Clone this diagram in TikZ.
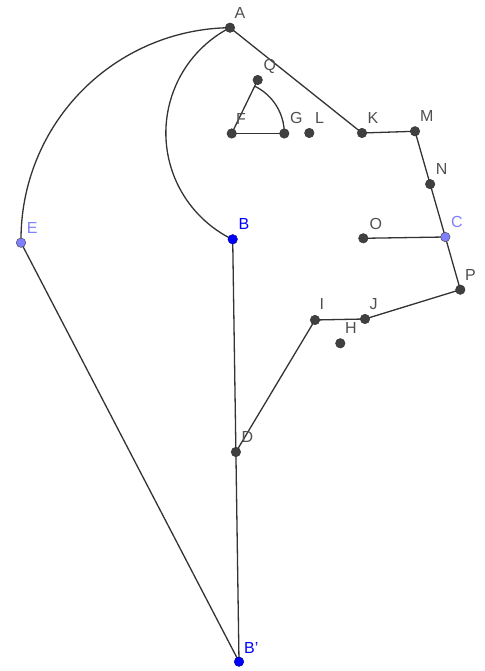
\documentclass[tikz,border=0pt]{standalone}
\usepackage{fontspec}
\setmainfont{Liberation Sans}
\definecolor{ptgray}{HTML}{404040}
\definecolor{lblgray}{HTML}{505050}
\definecolor{lineclr}{HTML}{333333}
\definecolor{ggblue}{HTML}{0000FF}
\definecolor{gglight}{HTML}{7F7FFF}
\tikzset{
  seg/.style={draw=lineclr, line width=1.3pt},
  pt/.style={circle, fill=ptgray, draw=black!80, line width=0.5pt, minimum size=9.5pt, inner sep=0pt},
  ptblue/.style={pt, fill=ggblue, draw=ggblue!60!black},
  ptlight/.style={pt, fill=gglight, draw=black!70},
  lbl/.style={anchor=base west, inner sep=0pt, text=lblgray, font=\fontsize{16}{16}\selectfont},
  lblblue/.style={lbl, text=ggblue},
  lbllight/.style={lbl, text=gglight}
}
\begin{document}
\begin{tikzpicture}[x=1pt, y=1pt]
\useasboundingbox (0,0) rectangle (484,671);
% point positions
\coordinate (A) at (230,643.3);
\coordinate (Q) at (257.7,591);
\coordinate (F) at (231.7,537.5);
\coordinate (G) at (284.3,537.5);
\coordinate (L) at (309.3,538);
\coordinate (K) at (362,538);
\coordinate (M) at (415,539.7);
\coordinate (N) at (430.15,486.85);
\coordinate (C) at (445.3,434);
\coordinate (O) at (363.3,432.7);
\coordinate (B) at (232.7,431.7);
\coordinate (P) at (460.3,381.3);
\coordinate (J) at (365,352);
\coordinate (I) at (315,351);
\coordinate (H) at (340.3,327.7);
\coordinate (D) at (235.9,219);
\coordinate (E) at (21,428.3);
\coordinate (Bp) at (239,9.3);
% arcs
\draw[seg] (A) arc[start angle=90.73, end angle=180.92, radius=211.7];
\draw[seg] (A) arc[start angle=117.28, end angle=244.1, radius=118.4];
\draw[seg] (G) arc[start angle=0, end angle=64.08, radius=52.6];
% segments
\draw[seg] (F) -- (Q);
\draw[seg] (F) -- (G);
\draw[seg] (A) -- (K);
\draw[seg] (K) -- (M);
\draw[seg] (M) -- (N) -- (C);
\draw[seg] (O) -- (C);
\draw[seg] (C) -- (P);
\draw[seg] (P) -- (J);
\draw[seg] (J) -- (I);
\draw[seg] (I) -- (D);
\draw[seg] (B) -- (D) -- (Bp);
\draw[seg] (E) -- (Bp);
% points
\node[pt] (pA) at (A) {};
\node[pt] (pQ) at (Q) {};
\node[pt] (pF) at (F) {};
\node[pt] (pG) at (G) {};
\node[pt] (pL) at (L) {};
\node[pt] (pK) at (K) {};
\node[pt] (pM) at (M) {};
\node[pt] (pN) at (N) {};
\node[ptlight] (pC) at (C) {};
\node[pt] (pO) at (O) {};
\node[ptblue] (pB) at (B) {};
\node[pt] (pP) at (P) {};
\node[pt] (pJ) at (J) {};
\node[pt] (pI) at (I) {};
\node[pt] (pH) at (H) {};
\node[pt] (pD) at (D) {};
\node[ptlight] (pE) at (E) {};
\node[ptblue] (pBp) at (Bp) {};
% labels
\node[lbl] (tA) at (234.5,652) {A};
\node[lbl] (tQ) at (263.5,600.5) {Q};
\node[lbl] (tF) at (236,546) {F};
\node[lbl] (tG) at (290,547.7) {G};
\node[lbl] (tL) at (315,547.7) {L};
\node[lbl] (tK) at (367.3,547.7) {K};
\node[lbl] (tM) at (420,549.3) {M};
\node[lbl] (tN) at (435.7,496) {N};
\node[lbllight] (tC) at (451,443.3) {C};
\node[lbl] (tO) at (369.5,441.7) {O};
\node[lblblue] (tB) at (238.3,441) {B};
\node[lbl] (tP) at (465,390.3) {P};
\node[lbl] (tI) at (319.5,361) {I};
\node[lbl] (tJ) at (369.5,361.7) {J};
\node[lbl] (tH) at (345,337) {H};
\node[lbl] (tD) at (241.3,228.3) {D};
\node[lbllight] (tE) at (26.7,437.7) {E};
\node[lblblue] (tBp) at (244,17.7) {B'};
\end{tikzpicture}
\end{document}
